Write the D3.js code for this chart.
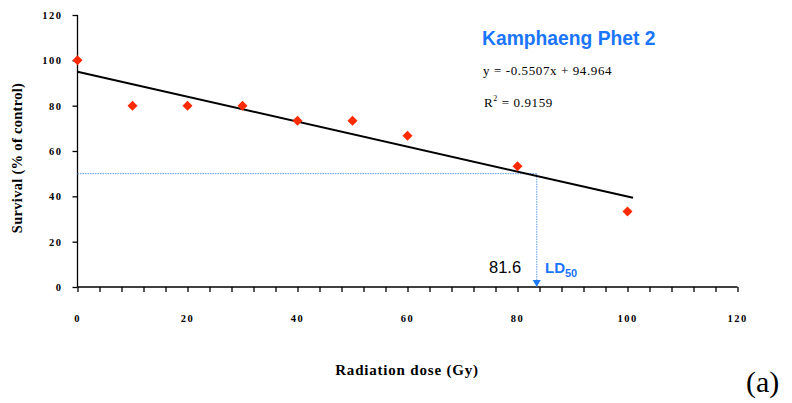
<!DOCTYPE html>
<html><head><meta charset="utf-8">
<script src="https://cdn.jsdelivr.net/npm/d3@7"></script>
<style>body{margin:0;background:#fff}svg{display:block}</style>
</head><body><svg id="c" width="792" height="403"></svg>
<script>
const doses = [0, 10, 20, 30, 40, 50, 60, 80, 100];
const survival = [100, 80, 80, 80, 73.3, 73.3, 66.7, 53.3, 33.3];
const slope = -0.5507, intercept = 94.964;
const fitRange = [0, 101];
const ld50Level = 50, ld50Marker = 83.5, ld50Label = "81.6";
const xTicks = [0, 20, 40, 60, 80, 100, 120];
const yTicks = [0, 20, 40, 60, 80, 100, 120];

const svg = d3.select("#c");
const x = d3.scaleLinear().domain([0, 120]).range([77.5, 737.5]);
const y = d3.scaleLinear().domain([0, 120]).range([287, 15]);

// y axis
const ya = svg.append("g").attr("transform", "translate(77.5,0)")
  .call(d3.axisLeft(y).tickValues(yTicks).tickSize(5).tickPadding(10).tickFormat(d3.format("d")));
ya.select(".domain").attr("stroke", "#000").attr("stroke-width", 1.3).attr("d", `M0,${y(120)}V${y(0)}`);
ya.selectAll(".tick line").attr("stroke-width", 1.3);
ya.selectAll("text").attr("font-family", "Liberation Serif").attr("font-weight", "bold").attr("font-size", 10.5)
  .attr("letter-spacing", 1.5).attr("fill", "#000");

// x axis
const xa = svg.append("g").attr("transform", `translate(0,${y(0)})`)
  .call(d3.axisBottom(x).tickValues(d3.range(0, 121, 4)).tickSize(5).tickFormat(""));
xa.select(".domain").attr("stroke-width", 1.3).attr("d", `M${x(0)},0H${x(120)}`);
xa.selectAll(".tick line").attr("stroke-width", 1.3);
svg.append("g").selectAll("text").data(xTicks).join("text")
  .attr("x", d => x(d)).attr("y", 322).attr("text-anchor", "middle")
  .attr("font-family", "Liberation Serif").attr("font-weight", "bold").attr("font-size", 10.5).attr("letter-spacing", 1.5)
  .text(d => d);

// LD50 guide lines
svg.append("line").attr("x1", x(0)).attr("x2", x(ld50Marker)).attr("y1", y(ld50Level)).attr("y2", y(ld50Level))
  .attr("stroke", "#5b9bf0").attr("stroke-width", 1).attr("stroke-dasharray", "1.5,1");
svg.append("line").attr("x1", x(ld50Marker)).attr("x2", x(ld50Marker)).attr("y1", y(ld50Level)).attr("y2", y(0) - 6)
  .attr("stroke", "#5b9bf0").attr("stroke-width", 1).attr("stroke-dasharray", "1.5,1");
svg.append("path").attr("d", `M${x(ld50Marker)-4},${y(0)-7}L${x(ld50Marker)+4},${y(0)-7}L${x(ld50Marker)},${y(0)}Z`)
  .attr("fill", "#1e7bf5");

// regression line
svg.append("line").attr("x1", x(fitRange[0])).attr("y1", y(slope * fitRange[0] + intercept))
  .attr("x2", x(fitRange[1])).attr("y2", y(slope * fitRange[1] + intercept))
  .attr("stroke", "#000").attr("stroke-width", 2);

// points
svg.append("g").selectAll("path").data(doses.map((d, i) => [d, survival[i]])).join("path")
  .attr("transform", d => `translate(${x(d[0])},${y(d[1])})`)
  .attr("d", "M0,-5L5,0L0,5L-5,0Z").attr("fill", "#ff2a00");

// texts
svg.append("text").attr("x", 482).attr("y", 45).attr("font-family", "Liberation Sans").attr("font-weight", "bold")
  .attr("font-size", 19.3).attr("fill", "#1a75ff").text("Kamphaeng Phet 2");
svg.append("text").attr("x", 483).attr("y", 75).attr("font-family", "Liberation Serif").attr("font-size", 13)
  .attr("letter-spacing", 0.6).attr("fill", "#000").text("y = -0.5507x + 94.964");
const r2 = svg.append("text").attr("x", 484).attr("y", 107).attr("font-family", "Liberation Serif").attr("font-size", 13)
  .attr("letter-spacing", 0.6).attr("fill", "#000");
r2.append("tspan").text("R");
r2.append("tspan").attr("dy", -6).attr("font-size", 8).text("2");
r2.append("tspan").attr("dy", 6).text(" = 0.9159");

svg.append("text").attr("x", 489).attr("y", 273).attr("font-family", "Liberation Sans").attr("font-size", 16.5)
  .attr("fill", "#000").text(ld50Label);
const ld = svg.append("text").attr("x", 545).attr("y", 273).attr("font-family", "Liberation Sans").attr("font-weight", "bold")
  .attr("font-size", 15).attr("fill", "#1a75ff");
ld.append("tspan").text("LD");
ld.append("tspan").attr("dy", 4).attr("font-size", 11).text("50");

svg.append("text").attr("transform", "translate(22,158) rotate(-90)").attr("text-anchor", "middle")
  .attr("font-family", "Liberation Serif").attr("font-weight", "bold").attr("font-size", 14.5).attr("letter-spacing", 0.3)
  .text("Survival (% of control)");
svg.append("text").attr("x", 407).attr("y", 375).attr("text-anchor", "middle")
  .attr("font-family", "Liberation Serif").attr("font-weight", "bold").attr("font-size", 15).attr("letter-spacing", 0.8)
  .text("Radiation dose (Gy)");
svg.append("text").attr("x", 746).attr("y", 392).attr("font-family", "Liberation Serif").attr("font-size", 30).text("(a)");
</script></body></html>
